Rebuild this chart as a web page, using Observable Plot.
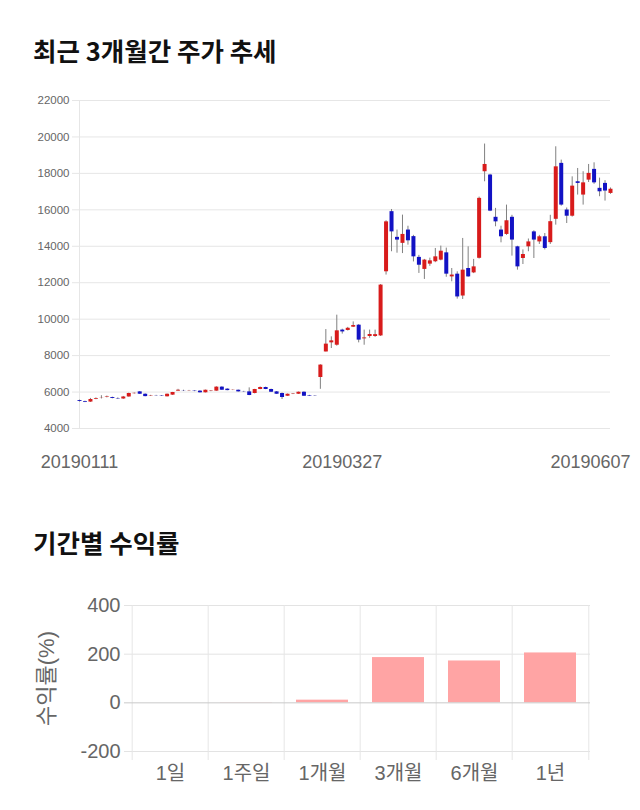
<!DOCTYPE html>
<html><head><meta charset="utf-8">
<script src="https://cdn.jsdelivr.net/npm/d3@7"></script>
<script src="https://cdn.jsdelivr.net/npm/@observablehq/plot@0.6"></script>
<style>
body{margin:0;background:#fff;}
#wrap{position:relative;width:640px;height:810px;overflow:hidden;background:#fff}
.title{position:absolute;left:33px;font-size:25.5px;line-height:26px;font-weight:700;color:#111;font-family:"Noto Sans CJK KR","Noto Sans",sans-serif;white-space:nowrap}
#t1{top:37px}
#t2{top:529px}
#c1{position:absolute;left:0;top:80px}
#c2{position:absolute;left:0;top:580px}
</style></head><body>
<div id="wrap">
<div class="title" id="t1">최근 3개월간 주가 추세</div>
<div id="c1"></div>
<div class="title" id="t2">기간별 수익률</div>
<div id="c2"></div>
</div>
<script>
// --- daily candles (KRW), 20190111 .. 20190607 ---
const openP = [5530,5480,5450,5600,5650,5700,5700,5640,5620,5730,
5910,6010,5880,5780,5800,5790,5740,5830,6050,6070,
6060,6050,6050,5960,6040,6050,6270,6160,6100,6100,
6010,6010,5920,6140,6250,6140,6010,5920,5770,5880,
5880,5990,5800,5790,6800,8200,8700,8570,9400,9380,
9560,9670,8920,9050,9050,9080,12600,15900,14490,14160,
14890,14530,13390,12730,13020,13150,13240,13640,12320,12470,
11270,12780,12540,13340,18090,17910,15590,14890,14650,15590,
13970,13330,13970,14790,14240,14520,14200,15480,18550,15990,
15650,17540,16810,17630,18220,17180,17450,16900];
const highP = [5560,5500,5650,5680,5800,5780,5720,5680,5760,5940,
5950,6030,5900,5820,5820,5810,5890,5980,6150,6100,
6090,6070,6070,6110,6080,6290,6290,6180,6120,6110,
6040,6230,6150,6280,6270,6160,6030,5950,5890,5920,
6000,6010,5820,5800,7500,9430,9030,10220,9450,9550,
9850,9700,9400,9400,9400,11900,15400,16020,14890,15710,
15100,14600,13500,13280,13350,13880,14010,13900,12780,12600,
14430,13970,13280,16700,19610,17950,16080,15100,16260,15700,
14000,13800,14400,14850,14600,14700,15700,19460,18730,16100,
17810,18270,18090,18490,18580,17740,17600,17200];
const lowP = [5450,5420,5430,5580,5620,5680,5630,5600,5600,5720,
5890,5870,5740,5760,5770,5760,5730,5820,6040,6030,
6040,6020,5950,5950,6020,6040,6090,6070,6080,6000,
5990,5800,5900,6130,6130,5980,5870,5590,5760,5860,
5870,5760,5760,5760,6150,8200,8390,8520,9180,9350,
9540,8700,8570,8950,9000,9050,12420,13700,13620,13600,
14060,13140,12510,12180,12900,13100,13200,12300,12050,11100,
11080,12300,12500,13300,17540,15900,15070,14190,14600,13460,
12690,13000,13700,13330,14100,13800,14100,15160,16200,15250,
15600,16810,16260,17500,17400,16720,16480,16850];
const closeP = [5480,5440,5590,5640,5660,5730,5650,5620,5730,5920,
5930,5880,5750,5800,5790,5770,5880,5975,6100,6060,
6070,6030,5960,6100,6060,6270,6100,6080,6110,6010,
6000,5810,6140,6250,6140,5990,5880,5700,5880,5900,
5990,5770,5770,5780,7480,8630,8810,9360,9300,9500,
9650,8850,8970,9160,9150,11870,15340,14790,14340,14650,
14300,13420,12960,13240,13200,13420,13730,12470,12420,11220,
12690,12320,12870,16630,18490,15930,15340,14520,15400,14340,
12870,13550,14240,14340,14520,13880,15350,18360,16260,15650,
17300,17450,17480,18000,17480,16990,17030,17130];
const dateTickIndex = [0, 48, 97];
const dateTickLabels = ["20190111", "20190327", "20190607"];
const priceTicks = [4000, 6000, 8000, 10000, 12000, 14000, 16000, 18000, 20000, 22000];

// --- period returns (%) ---
const periods = ["1일", "1주일", "1개월", "3개월", "6개월", "1년"];
const returns = [0, 1, 11, 186, 172, 205];
const returnTicks = [-200, 0, 200, 400];

const candles = openP.map((o, i) => ({i, open: o, high: highP[i], low: lowP[i], close: closeP[i]}));
const UP = "#d81b1b", DOWN = "#1212c4";
const latin = "'Liberation Sans', Arial, 'Noto Sans CJK KR', sans-serif";

const chart1 = Plot.plot({
  width: 640, height: 400,
  marginLeft: 79, marginRight: 30, marginTop: 20, marginBottom: 52,
  style: {fontFamily: latin, background: "#fff", overflow: "visible"},
  x: {domain: [0, candles.length - 1], axis: null},
  y: {domain: [4000, 22000], axis: null},
  color: {type: "identity"},
  marks: [
    Plot.ruleY(priceTicks, {stroke: "#e6e6e6", insetLeft: -7}),
    Plot.ruleX([0], {stroke: "#e6e6e6"}),
    Plot.text(priceTicks, {frameAnchor: "left", y: d => d, text: d => String(d), textAnchor: "end", dx: -10, fill: "#666", fontSize: 11.5}),
    Plot.ruleX(candles, {x: "i", y1: "low", y2: "high", stroke: "#808080", strokeWidth: 1}),
    Plot.ruleX(candles, {x: "i", y1: "open", y2: "close", stroke: d => d.close >= d.open ? UP : DOWN, strokeWidth: 4}),
    Plot.text(dateTickIndex, {filter: (d, i) => i < 2, x: d => d, text: (d, i) => dateTickLabels[i], frameAnchor: "bottom", dy: 39, fontSize: 18, fill: "#666"}),
    Plot.text(dateTickIndex, {filter: (d, i) => i === 2, x: d => d, text: (d, i) => dateTickLabels[i], frameAnchor: "bottom", dy: 39, dx: 20, textAnchor: "end", fontSize: 18, fill: "#666"})
  ]
});
document.getElementById("c1").appendChild(chart1);

const rows = periods.map((p, i) => ({p, v: returns[i]}));
const chart2 = Plot.plot({
  width: 640, height: 220,
  marginLeft: 130, marginRight: 50, marginTop: 25, marginBottom: 49,
  style: {fontFamily: latin, background: "#fff", overflow: "visible"},
  x: {domain: periods, padding: 0, axis: null},
  y: {domain: [-200, 400], axis: null},
  marks: [
    Plot.ruleY(returnTicks.filter(d => d !== 0), {stroke: "#e3e3e3", insetLeft: -6}),
    Plot.ruleX(periods, {x: d => d, dx: -38.3, stroke: "#e6e6e6", insetBottom: -9}),
    Plot.ruleX(periods.slice(-1), {x: d => d, dx: 38.3, stroke: "#e6e6e6", insetBottom: -9}),
    Plot.barY(rows, {x: "p", y: "v", fill: "#ffa4a4", insetLeft: 12, insetRight: 12}),
    Plot.ruleY([0], {stroke: "#c9c9c9", insetLeft: -6}),
    Plot.text(returnTicks, {frameAnchor: "left", y: d => d, text: d => String(d), textAnchor: "end", dx: -10, fontSize: 20, fill: "#666"}),
    Plot.text(periods, {x: d => d, text: d => d, frameAnchor: "bottom", dy: 28, fontSize: 20, fill: "#666"}),
    Plot.text(["수익률(%)"], {frameAnchor: "left", dx: -84, rotate: -90, textAnchor: "middle", fontSize: 22, fill: "#666"})
  ]
});
document.getElementById("c2").appendChild(chart2);
</script>
</body></html>
